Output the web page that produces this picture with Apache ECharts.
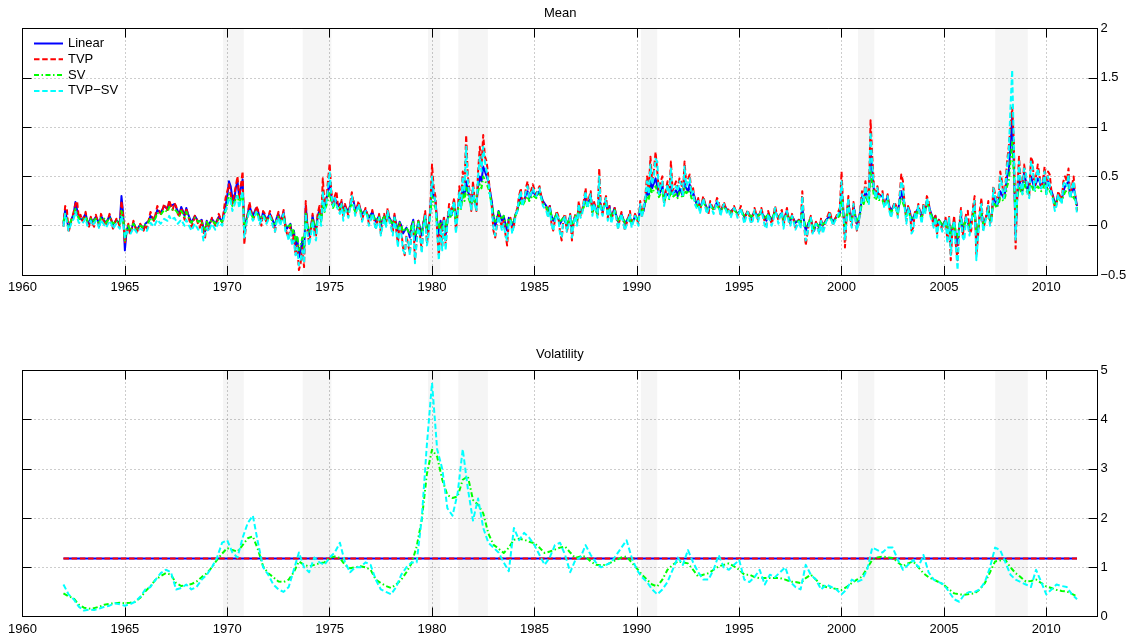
<!DOCTYPE html>
<html>
<head>
<meta charset="utf-8">
<script src="https://cdn.jsdelivr.net/npm/echarts@6/dist/echarts.min.js"></script>
<style>
  html, body { margin: 0; padding: 0; background: #fff; }
  #chart { width: 1130px; height: 640px; }
</style>
</head>
<body>
<div id="chart"></div>
<script>
// Conditional mean estimates, monthly from January 1962 to July 2011 (one row per year)
const meanStart = 1962;
const meanStep = 1 / 12;

const meanLinear = [
  0.02, 0.16, 0.14, -0.03, -0.02, 0.08, 0.12, 0.24, 0.22, 0.08, 0.10, 0.06,
  0.08, 0.12, 0.05, 0.02, 0.08, 0.04, 0.02, 0.09, 0.06, 0.01, 0.10, 0.07,
  0.08, 0.03, 0.04, 0.10, 0.06, 0.01, 0.00, 0.06, 0.05, 0.02, 0.30, 0.12,
  -0.25, -0.05, 0.00, -0.06, -0.03, 0.03, 0.02, -0.04, -0.05, 0.01, 0.00, -0.03,
  0.02, 0.00, 0.05, 0.10, 0.12, 0.06, 0.10, 0.16, 0.18, 0.13, 0.15, 0.20,
  0.20, 0.17, 0.24, 0.20, 0.18, 0.22, 0.21, 0.15, 0.12, 0.19, 0.15, 0.10,
  0.18, 0.12, 0.10, 0.03, 0.05, 0.10, 0.08, 0.04, 0.02, 0.06, -0.02, -0.06,
  0.05, 0.00, 0.02, 0.07, 0.08, 0.02, 0.04, 0.09, 0.10, 0.04, 0.12, 0.20,
  0.30, 0.45, 0.40, 0.28, 0.25, 0.38, 0.45, 0.30, 0.30, 0.47, -0.08, 0.05,
  0.12, 0.20, 0.20, 0.10, 0.12, 0.18, 0.15, 0.08, 0.05, 0.14, 0.12, 0.06,
  0.05, 0.12, 0.14, 0.04, 0.00, 0.08, 0.12, 0.05, 0.08, 0.14, 0.02, -0.03,
  -0.05, 0.02, -0.10, -0.05, -0.20, -0.12, -0.32, -0.25, -0.15, -0.28, 0.20, 0.00,
  -0.10, -0.02, 0.10, 0.00, -0.05, 0.10, 0.15, 0.05, 0.25, 0.18, 0.20, 0.35,
  0.45, 0.30, 0.20, 0.28, 0.30, 0.20, 0.18, 0.24, 0.15, 0.20, 0.20, 0.14,
  0.20, 0.28, 0.25, 0.16, 0.15, 0.22, 0.20, 0.12, 0.10, 0.16, 0.12, 0.08,
  0.08, 0.14, 0.12, 0.04, 0.05, 0.10, 0.00, 0.06, 0.10, 0.04, 0.15, 0.08,
  0.05, 0.00, 0.10, 0.02, -0.05, 0.04, 0.00, -0.08, -0.10, -0.02, -0.05, -0.12,
  0.00, 0.06, -0.15, -0.05, 0.05, -0.02, -0.10, 0.04, 0.10, -0.05, 0.00, 0.15,
  0.45, 0.30, 0.25, 0.05, -0.10, 0.05, -0.05, 0.08, -0.10, 0.05, 0.15, 0.10,
  0.15, 0.22, 0.05, 0.15, 0.30, 0.20, 0.40, 0.30, 0.45, 0.35, 0.30, 0.20,
  0.35, 0.25, 0.20, 0.40, 0.50, 0.45, 0.60, 0.55, 0.55, 0.45, 0.35, 0.25,
  0.10, 0.00, 0.05, 0.15, 0.15, 0.05, 0.10, 0.02, -0.05, 0.08, 0.10, 0.00,
  0.05, 0.12, 0.15, 0.25, 0.30, 0.22, 0.25, 0.32, 0.35, 0.28, 0.30, 0.35,
  0.35, 0.30, 0.32, 0.35, 0.30, 0.25, 0.25, 0.20, 0.15, 0.20, 0.10, 0.05,
  0.05, 0.12, 0.10, 0.02, 0.00, 0.08, 0.10, 0.00, 0.05, 0.10, -0.05, 0.05,
  0.10, 0.05, 0.20, 0.12, 0.15, 0.22, 0.30, 0.20, 0.25, 0.30, 0.15, 0.22,
  0.20, 0.12, 0.30, 0.18, 0.15, 0.22, 0.25, 0.12, 0.20, 0.08, 0.10, 0.18,
  0.10, 0.04, 0.05, 0.12, 0.10, 0.02, 0.00, 0.08, 0.08, 0.02, 0.05, 0.10,
  0.10, 0.05, 0.20, 0.12, 0.15, 0.25, 0.35, 0.30, 0.45, 0.38, 0.40, 0.48,
  0.40, 0.32, 0.35, 0.42, 0.25, 0.33, 0.35, 0.30, 0.40, 0.32, 0.30, 0.36,
  0.30, 0.38, 0.35, 0.30, 0.45, 0.38, 0.35, 0.42, 0.30, 0.34, 0.28, 0.22,
  0.25, 0.18, 0.20, 0.27, 0.25, 0.18, 0.15, 0.22, 0.22, 0.17, 0.20, 0.24,
  0.20, 0.15, 0.15, 0.21, 0.20, 0.16, 0.18, 0.14, 0.15, 0.18, 0.15, 0.12,
  0.12, 0.16, 0.15, 0.09, 0.10, 0.14, 0.12, 0.08, 0.10, 0.14, 0.15, 0.10,
  0.10, 0.14, 0.15, 0.08, 0.05, 0.12, 0.12, 0.06, 0.10, 0.15, 0.15, 0.08,
  0.10, 0.13, 0.05, 0.10, 0.15, 0.08, 0.05, 0.10, 0.08, 0.03, 0.02, 0.06,
  0.02, 0.18, 0.05, -0.05, 0.00, 0.04, 0.08, -0.02, -0.05, 0.03, 0.02, -0.02,
  0.05, 0.00, 0.00, 0.06, 0.05, 0.10, 0.10, 0.04, 0.05, 0.09, 0.08, 0.12,
  0.38, 0.15, -0.08, 0.10, 0.25, 0.10, 0.05, 0.20, 0.18, 0.02, 0.05, 0.15,
  0.30, 0.25, 0.35, 0.30, 0.25, 0.75, 0.55, 0.35, 0.30, 0.35, 0.30, 0.28,
  0.30, 0.22, 0.25, 0.30, 0.20, 0.15, 0.15, 0.22, 0.20, 0.14, 0.25, 0.35,
  0.35, 0.20, 0.10, 0.18, 0.15, 0.05, 0.05, 0.12, 0.10, 0.18, 0.15, 0.08,
  0.20, 0.15, 0.25, 0.22, 0.15, 0.10, 0.05, 0.10, 0.00, 0.06, 0.05, 0.00,
  0.00, 0.06, -0.05, 0.05, -0.15, -0.02, 0.05, -0.10, -0.20, 0.00, 0.10, -0.05,
  -0.05, 0.08, 0.10, -0.02, 0.00, 0.12, 0.20, -0.15, -0.05, 0.10, 0.15, 0.00,
  0.00, 0.10, 0.20, 0.05, 0.10, 0.30, 0.30, 0.20, 0.25, 0.35, 0.35, 0.28,
  0.35, 0.50, 0.55, 0.80, 1.10, 0.60, -0.10, 0.30, 0.50, 0.40, 0.35, 0.55,
  0.45, 0.35, 0.35, 0.50, 0.50, 0.38, 0.40, 0.48, 0.45, 0.38, 0.40, 0.50,
  0.35, 0.45, 0.45, 0.35, 0.30, 0.22, 0.25, 0.32, 0.30, 0.25, 0.35, 0.40,
  0.40, 0.45, 0.30, 0.35, 0.40, 0.30, 0.20
];

const meanTVP = [
  -0.01, 0.20, 0.17, -0.07, -0.05, 0.08, 0.14, 0.22, 0.25, 0.08, 0.11, 0.05,
  0.08, 0.14, 0.03, -0.01, 0.09, 0.02, -0.01, 0.11, 0.05, -0.02, 0.12, 0.07,
  0.09, 0.00, 0.02, 0.12, 0.06, -0.03, -0.04, 0.07, 0.04, -0.01, 0.25, 0.10,
  -0.18, -0.06, 0.02, -0.09, -0.04, 0.05, 0.03, -0.07, -0.08, 0.02, 0.01, -0.05,
  0.01, -0.03, 0.06, 0.14, 0.15, 0.05, 0.12, 0.20, 0.20, 0.12, 0.16, 0.22,
  0.22, 0.16, 0.26, 0.20, 0.16, 0.23, 0.20, 0.12, 0.09, 0.18, 0.13, 0.06,
  0.18, 0.10, 0.08, -0.01, 0.03, 0.10, 0.07, 0.01, -0.02, 0.05, -0.06, -0.12,
  0.04, -0.04, 0.00, 0.08, 0.10, 0.00, 0.03, 0.12, 0.12, 0.03, 0.16, 0.28,
  0.35, 0.42, 0.40, 0.22, 0.22, 0.40, 0.50, 0.28, 0.30, 0.55, -0.19, 0.02,
  0.12, 0.24, 0.22, 0.06, 0.10, 0.20, 0.16, 0.04, 0.00, 0.15, 0.12, 0.02,
  0.02, 0.15, 0.17, 0.00, -0.06, 0.08, 0.14, 0.03, 0.06, 0.16, -0.02, -0.08,
  -0.12, 0.00, -0.18, -0.10, -0.30, -0.20, -0.45, -0.38, -0.22, -0.42, 0.25, -0.05,
  -0.18, -0.06, 0.12, -0.04, -0.10, 0.12, 0.20, 0.05, 0.48, 0.22, 0.25, 0.45,
  0.63, 0.35, 0.20, 0.30, 0.35, 0.18, 0.15, 0.26, 0.10, 0.22, 0.22, 0.10,
  0.22, 0.34, 0.32, 0.12, 0.10, 0.25, 0.24, 0.06, 0.05, 0.18, 0.12, 0.02,
  0.05, 0.16, 0.15, -0.02, 0.00, 0.12, -0.08, 0.04, 0.12, 0.00, 0.18, 0.06,
  0.02, -0.08, 0.12, -0.04, -0.18, 0.02, -0.05, -0.22, -0.30, -0.10, -0.12, -0.28,
  -0.05, 0.05, -0.35, -0.15, 0.05, -0.10, -0.25, 0.03, 0.15, -0.18, -0.05, 0.20,
  0.62, 0.38, 0.30, -0.05, -0.30, 0.02, -0.20, 0.10, -0.20, 0.05, 0.22, 0.12,
  0.20, 0.28, -0.05, 0.12, 0.40, 0.22, 0.55, 0.38, 0.92, 0.50, 0.35, 0.15,
  0.45, 0.25, 0.15, 0.55, 0.80, 0.60, 0.92, 0.70, 0.65, 0.50, 0.35, 0.20,
  -0.05, -0.12, -0.12, 0.12, 0.10, -0.02, 0.05, -0.08, -0.20, 0.04, 0.08, -0.05,
  0.00, 0.12, 0.18, 0.30, 0.38, 0.22, 0.25, 0.38, 0.45, 0.30, 0.35, 0.42,
  0.42, 0.32, 0.36, 0.40, 0.30, 0.22, 0.22, 0.18, 0.10, 0.20, 0.02, -0.05,
  -0.05, 0.15, 0.10, -0.06, -0.15, 0.08, 0.12, -0.06, 0.02, 0.12, -0.15, 0.04,
  0.12, 0.02, 0.25, 0.10, 0.15, 0.26, 0.38, 0.20, 0.28, 0.35, 0.12, 0.24,
  0.22, 0.10, 0.58, 0.18, 0.12, 0.24, 0.30, 0.08, 0.20, 0.05, 0.05, 0.18,
  0.10, -0.02, 0.00, 0.14, 0.12, -0.04, -0.02, 0.08, 0.15, 0.00, 0.02, 0.12,
  0.12, 0.02, 0.25, 0.10, 0.10, 0.30, 0.50, 0.35, 0.70, 0.45, 0.55, 0.75,
  0.75, 0.35, 0.45, 0.50, 0.22, 0.35, 0.45, 0.30, 0.65, 0.35, 0.35, 0.45,
  0.38, 0.48, 0.45, 0.32, 0.65, 0.42, 0.40, 0.52, 0.35, 0.38, 0.25, 0.20,
  0.28, 0.15, 0.15, 0.30, 0.30, 0.15, 0.12, 0.25, 0.25, 0.15, 0.20, 0.28,
  0.25, 0.12, 0.12, 0.24, 0.22, 0.14, 0.18, 0.10, 0.12, 0.20, 0.18, 0.10,
  0.10, 0.20, 0.20, 0.05, 0.05, 0.16, 0.15, 0.04, 0.08, 0.18, 0.18, 0.06,
  0.05, 0.18, 0.20, 0.04, 0.00, 0.15, 0.15, 0.02, 0.08, 0.20, 0.18, 0.05,
  0.12, 0.16, 0.00, 0.10, 0.18, 0.06, 0.02, 0.12, 0.10, -0.02, -0.02, 0.06,
  0.00, 0.35, 0.05, -0.20, -0.08, 0.04, 0.10, -0.08, -0.10, 0.04, 0.02, -0.08,
  0.08, -0.05, -0.06, 0.06, 0.06, 0.15, 0.15, 0.02, 0.02, 0.10, 0.12, 0.18,
  0.55, 0.18, -0.22, 0.10, 0.30, 0.08, 0.00, 0.24, 0.22, -0.05, 0.02, 0.18,
  0.35, 0.28, 0.45, 0.32, 0.25, 1.07, 0.70, 0.40, 0.30, 0.40, 0.30, 0.28,
  0.35, 0.20, 0.25, 0.32, 0.18, 0.10, 0.10, 0.24, 0.20, 0.10, 0.30, 0.52,
  0.45, 0.20, 0.05, 0.20, 0.15, -0.05, -0.02, 0.14, 0.10, 0.22, 0.20, 0.05,
  0.22, 0.15, 0.30, 0.25, 0.12, 0.08, 0.00, 0.10, -0.08, 0.06, 0.02, -0.05,
  -0.05, 0.08, -0.15, 0.10, -0.35, -0.05, 0.10, -0.20, -0.35, 0.00, 0.18, -0.10,
  -0.12, 0.12, 0.15, -0.08, -0.05, 0.18, 0.30, -0.30, -0.10, 0.15, 0.28, -0.05,
  -0.05, 0.12, 0.25, 0.02, 0.08, 0.40, 0.40, 0.25, 0.30, 0.55, 0.45, 0.30,
  0.40, 0.65, 0.80, 1.00, 1.20, 0.85, -0.23, 0.35, 0.70, 0.45, 0.35, 0.62,
  0.60, 0.35, 0.30, 0.70, 0.65, 0.38, 0.40, 0.62, 0.62, 0.40, 0.45, 0.60,
  0.35, 0.55, 0.52, 0.35, 0.28, 0.18, 0.22, 0.35, 0.35, 0.25, 0.45, 0.50,
  0.45, 0.58, 0.30, 0.40, 0.50, 0.30, 0.15
];

const meanSV = [
  0.04, 0.12, 0.10, 0.00, 0.01, 0.07, 0.10, 0.17, 0.16, 0.07, 0.08, 0.06,
  0.07, 0.09, 0.05, 0.03, 0.07, 0.04, 0.03, 0.07, 0.05, 0.02, 0.08, 0.06,
  0.07, 0.03, 0.04, 0.08, 0.05, 0.02, 0.01, 0.05, 0.04, 0.02, 0.15, 0.08,
  -0.15, -0.04, 0.00, -0.05, -0.03, 0.02, 0.01, -0.03, -0.04, 0.00, 0.00, -0.02,
  0.01, 0.00, 0.04, 0.08, 0.10, 0.05, 0.08, 0.13, 0.14, 0.11, 0.12, 0.16,
  0.16, 0.14, 0.19, 0.16, 0.15, 0.17, 0.16, 0.13, 0.10, 0.15, 0.12, 0.09,
  0.14, 0.10, 0.08, 0.03, 0.04, 0.08, 0.07, 0.04, 0.02, 0.05, -0.01, -0.04,
  0.04, 0.01, 0.02, 0.06, 0.07, 0.02, 0.03, 0.07, 0.08, 0.04, 0.10, 0.15,
  0.22, 0.32, 0.28, 0.20, 0.18, 0.27, 0.32, 0.22, 0.22, 0.33, -0.03, 0.05,
  0.10, 0.16, 0.16, 0.08, 0.10, 0.14, 0.12, 0.07, 0.05, 0.11, 0.10, 0.05,
  0.04, 0.09, 0.10, 0.03, 0.00, 0.06, 0.09, 0.04, 0.06, 0.10, 0.02, -0.02,
  -0.04, 0.01, -0.08, -0.04, -0.15, -0.10, -0.25, -0.20, -0.12, -0.22, 0.12, 0.00,
  -0.06, -0.01, 0.07, 0.00, -0.03, 0.07, 0.12, 0.04, 0.20, 0.14, 0.16, 0.26,
  0.35, 0.24, 0.18, 0.22, 0.24, 0.17, 0.16, 0.20, 0.14, 0.17, 0.17, 0.13,
  0.18, 0.23, 0.21, 0.14, 0.14, 0.19, 0.18, 0.12, 0.10, 0.14, 0.12, 0.08,
  0.08, 0.12, 0.10, 0.05, 0.05, 0.09, 0.02, 0.06, 0.09, 0.04, 0.12, 0.07,
  0.05, 0.01, 0.08, 0.02, -0.03, 0.03, 0.00, -0.06, -0.08, -0.02, -0.04, -0.09,
  0.00, 0.04, -0.10, -0.04, 0.04, -0.01, -0.06, 0.03, 0.08, -0.03, 0.01, 0.12,
  0.30, 0.22, 0.18, 0.04, -0.02, 0.04, -0.03, 0.06, -0.03, 0.04, 0.12, 0.08,
  0.12, 0.18, 0.06, 0.12, 0.25, 0.17, 0.32, 0.25, 0.40, 0.30, 0.28, 0.20,
  0.30, 0.24, 0.22, 0.35, 0.42, 0.38, 0.50, 0.46, 0.45, 0.38, 0.30, 0.22,
  0.12, 0.04, 0.06, 0.14, 0.14, 0.06, 0.10, 0.04, 0.00, 0.08, 0.10, 0.03,
  0.06, 0.11, 0.14, 0.21, 0.25, 0.20, 0.22, 0.27, 0.30, 0.25, 0.28, 0.31,
  0.32, 0.28, 0.30, 0.32, 0.28, 0.23, 0.22, 0.19, 0.15, 0.18, 0.10, 0.06,
  0.06, 0.11, 0.10, 0.04, 0.02, 0.08, 0.10, 0.02, 0.05, 0.09, -0.02, 0.05,
  0.10, 0.06, 0.18, 0.12, 0.14, 0.19, 0.25, 0.18, 0.22, 0.26, 0.14, 0.19,
  0.18, 0.12, 0.26, 0.16, 0.14, 0.19, 0.22, 0.12, 0.18, 0.09, 0.10, 0.16,
  0.10, 0.05, 0.06, 0.11, 0.10, 0.03, 0.02, 0.08, 0.08, 0.03, 0.05, 0.09,
  0.10, 0.06, 0.18, 0.12, 0.14, 0.22, 0.30, 0.26, 0.38, 0.33, 0.35, 0.40,
  0.35, 0.29, 0.30, 0.36, 0.24, 0.30, 0.30, 0.27, 0.35, 0.29, 0.28, 0.32,
  0.28, 0.34, 0.32, 0.28, 0.38, 0.33, 0.32, 0.36, 0.28, 0.30, 0.26, 0.21,
  0.23, 0.18, 0.20, 0.24, 0.22, 0.18, 0.16, 0.20, 0.20, 0.17, 0.18, 0.21,
  0.18, 0.15, 0.15, 0.19, 0.18, 0.15, 0.16, 0.14, 0.14, 0.16, 0.14, 0.12,
  0.12, 0.15, 0.14, 0.10, 0.10, 0.13, 0.12, 0.09, 0.10, 0.13, 0.13, 0.10,
  0.10, 0.13, 0.13, 0.08, 0.06, 0.11, 0.11, 0.07, 0.09, 0.13, 0.13, 0.08,
  0.09, 0.11, 0.05, 0.09, 0.12, 0.07, 0.05, 0.08, 0.07, 0.03, 0.02, 0.05,
  0.02, 0.12, 0.05, -0.02, 0.00, 0.04, 0.07, 0.00, -0.03, 0.03, 0.02, -0.01,
  0.04, 0.01, 0.01, 0.05, 0.05, 0.08, 0.08, 0.04, 0.05, 0.07, 0.07, 0.10,
  0.28, 0.12, 0.00, 0.08, 0.20, 0.09, 0.06, 0.15, 0.14, 0.04, 0.06, 0.12,
  0.25, 0.22, 0.30, 0.26, 0.22, 0.55, 0.42, 0.30, 0.26, 0.30, 0.26, 0.25,
  0.26, 0.20, 0.22, 0.26, 0.18, 0.14, 0.14, 0.19, 0.18, 0.13, 0.22, 0.28,
  0.28, 0.18, 0.10, 0.15, 0.14, 0.06, 0.06, 0.11, 0.10, 0.15, 0.14, 0.08,
  0.18, 0.14, 0.22, 0.19, 0.14, 0.09, 0.06, 0.09, 0.02, 0.06, 0.05, 0.01,
  0.01, 0.05, -0.03, 0.04, -0.10, -0.01, 0.04, -0.07, -0.12, 0.01, 0.08, -0.03,
  -0.02, 0.06, 0.08, 0.00, 0.00, 0.09, 0.15, -0.08, -0.02, 0.08, 0.12, 0.02,
  0.02, 0.08, 0.16, 0.06, 0.10, 0.24, 0.24, 0.18, 0.22, 0.28, 0.28, 0.25,
  0.30, 0.40, 0.45, 0.65, 0.85, 0.50, 0.05, 0.28, 0.40, 0.35, 0.32, 0.45,
  0.38, 0.32, 0.32, 0.42, 0.42, 0.34, 0.36, 0.40, 0.40, 0.35, 0.36, 0.42,
  0.32, 0.38, 0.38, 0.32, 0.28, 0.22, 0.24, 0.28, 0.28, 0.24, 0.30, 0.34,
  0.34, 0.38, 0.28, 0.31, 0.32, 0.26, 0.18
];

const meanTVPSV = [
  -0.01, 0.12, 0.10, -0.05, -0.03, 0.04, 0.07, 0.14, 0.12, 0.03, 0.05, 0.02,
  0.04, 0.07, 0.00, -0.02, 0.05, 0.00, -0.02, 0.05, 0.02, -0.03, 0.06, 0.03,
  0.03, -0.02, -0.01, 0.05, 0.02, -0.03, -0.04, 0.02, 0.00, -0.03, 0.10, 0.03,
  -0.12, -0.06, -0.05, -0.09, -0.06, -0.02, -0.02, -0.07, -0.08, -0.03, -0.03, -0.05,
  -0.03, -0.05, 0.00, 0.03, 0.04, -0.01, 0.00, 0.06, 0.06, 0.02, 0.03, 0.07,
  0.08, 0.05, 0.10, 0.06, 0.04, 0.08, 0.06, 0.02, 0.02, 0.06, 0.04, 0.00,
  0.06, 0.02, 0.00, -0.05, -0.04, 0.02, 0.00, -0.04, -0.06, -0.02, -0.15, -0.08,
  -0.02, -0.06, -0.04, 0.02, 0.02, -0.04, -0.02, 0.04, 0.05, 0.00, 0.08, 0.15,
  0.20, 0.28, 0.25, 0.15, 0.15, 0.25, 0.30, 0.18, 0.18, 0.35, -0.12, 0.00,
  0.08, 0.16, 0.15, 0.05, 0.08, 0.14, 0.10, 0.02, 0.00, 0.10, 0.08, 0.02,
  0.00, 0.10, 0.12, -0.02, -0.06, 0.05, 0.08, 0.00, 0.02, 0.12, -0.05, -0.08,
  -0.15, -0.05, -0.20, -0.15, -0.30, -0.22, -0.40, -0.35, -0.25, -0.38, 0.12, -0.08,
  -0.20, -0.10, 0.05, -0.10, -0.15, 0.05, 0.10, 0.00, 0.35, 0.15, 0.22, 0.38,
  0.55, 0.32, 0.20, 0.28, 0.30, 0.15, 0.12, 0.22, 0.05, 0.18, 0.18, 0.08,
  0.18, 0.30, 0.28, 0.10, 0.08, 0.22, 0.20, 0.04, 0.02, 0.15, 0.10, 0.00,
  0.02, 0.12, 0.10, -0.04, -0.04, 0.08, -0.10, 0.00, 0.08, -0.02, 0.15, 0.04,
  -0.02, -0.10, 0.08, -0.05, -0.22, -0.02, -0.08, -0.25, -0.28, -0.12, -0.15, -0.30,
  -0.08, 0.02, -0.38, -0.18, 0.02, -0.12, -0.28, 0.00, 0.10, -0.20, -0.10, 0.15,
  0.50, 0.32, 0.25, -0.08, -0.35, -0.02, -0.25, 0.05, -0.25, 0.02, 0.18, 0.10,
  0.18, 0.25, -0.08, 0.10, 0.35, 0.18, 0.50, 0.35, 0.80, 0.45, 0.30, 0.15,
  0.40, 0.22, 0.15, 0.50, 0.70, 0.55, 0.80, 0.65, 0.55, 0.45, 0.30, 0.18,
  -0.02, -0.10, -0.10, 0.10, 0.08, -0.05, 0.02, -0.10, -0.15, 0.02, 0.05, -0.08,
  0.00, 0.10, 0.15, 0.28, 0.35, 0.20, 0.22, 0.35, 0.40, 0.28, 0.32, 0.38,
  0.40, 0.30, 0.35, 0.38, 0.28, 0.20, 0.20, 0.15, 0.08, 0.18, 0.02, -0.05,
  -0.05, 0.12, 0.08, -0.08, -0.12, 0.06, 0.10, -0.06, 0.00, 0.10, -0.12, 0.02,
  0.10, 0.00, 0.22, 0.08, 0.12, 0.24, 0.35, 0.18, 0.25, 0.32, 0.10, 0.22,
  0.20, 0.08, 0.50, 0.15, 0.10, 0.22, 0.28, 0.05, 0.18, 0.02, 0.02, 0.15,
  0.08, -0.04, -0.02, 0.12, 0.10, -0.05, -0.04, 0.06, 0.12, -0.02, 0.00, 0.10,
  0.10, 0.00, 0.22, 0.08, 0.08, 0.28, 0.45, 0.32, 0.62, 0.42, 0.50, 0.68,
  0.65, 0.32, 0.40, 0.45, 0.20, 0.32, 0.42, 0.28, 0.58, 0.32, 0.32, 0.40,
  0.35, 0.45, 0.42, 0.30, 0.60, 0.40, 0.38, 0.48, 0.32, 0.35, 0.22, 0.18,
  0.25, 0.12, 0.12, 0.28, 0.28, 0.12, 0.10, 0.22, 0.22, 0.12, 0.18, 0.25,
  0.22, 0.10, 0.10, 0.22, 0.20, 0.12, 0.15, 0.08, 0.10, 0.18, 0.15, 0.08,
  0.08, 0.18, 0.18, 0.02, 0.02, 0.14, 0.12, 0.02, 0.05, 0.16, 0.15, 0.04,
  0.02, 0.16, 0.18, 0.00, -0.03, 0.12, 0.12, 0.00, 0.05, 0.18, 0.16, 0.02,
  0.10, 0.14, -0.03, 0.08, 0.15, 0.04, 0.00, 0.10, 0.08, -0.04, -0.05, 0.04,
  -0.03, 0.30, 0.02, -0.15, -0.08, 0.02, 0.08, -0.08, -0.10, 0.02, 0.00, -0.08,
  0.05, -0.08, -0.08, 0.04, 0.04, 0.12, 0.12, 0.00, 0.00, 0.08, 0.10, 0.15,
  0.45, 0.15, -0.15, 0.08, 0.28, 0.06, -0.02, 0.22, 0.20, -0.05, 0.02, 0.15,
  0.32, 0.25, 0.40, 0.30, 0.22, 0.95, 0.62, 0.38, 0.28, 0.38, 0.28, 0.26,
  0.32, 0.18, 0.22, 0.30, 0.15, 0.08, 0.08, 0.22, 0.18, 0.08, 0.28, 0.45,
  0.40, 0.18, 0.02, 0.18, 0.12, -0.08, -0.05, 0.12, 0.08, 0.20, 0.18, 0.02,
  0.20, 0.12, 0.28, 0.22, 0.10, 0.05, -0.02, 0.08, -0.12, 0.04, 0.00, -0.06,
  -0.08, 0.06, -0.18, 0.08, -0.30, -0.08, 0.05, -0.22, -0.45, -0.02, 0.15, -0.12,
  -0.15, 0.10, 0.12, -0.10, -0.08, 0.15, 0.25, -0.35, -0.12, 0.12, 0.22, -0.06,
  -0.08, 0.10, 0.20, 0.00, 0.05, 0.38, 0.38, 0.22, 0.28, 0.50, 0.42, 0.28,
  0.38, 0.60, 0.75, 1.20, 1.58, 0.80, -0.15, 0.32, 0.65, 0.42, 0.32, 0.58,
  0.55, 0.32, 0.28, 0.65, 0.60, 0.36, 0.38, 0.58, 0.58, 0.38, 0.42, 0.55,
  0.32, 0.50, 0.48, 0.32, 0.25, 0.15, 0.20, 0.32, 0.32, 0.22, 0.42, 0.45,
  0.40, 0.52, 0.28, 0.38, 0.45, 0.28, 0.12
];

// Volatility estimates, quarterly from 1962Q1 to 2011Q3 (one row per year)
const volStart = 1962;
const volStep = 1 / 4;
const volLinear = 1.18;   // constant-volatility models
const volTVP = 1.18;

const volSV = [
  0.47, 0.41, 0.37, 0.24,
  0.18, 0.16, 0.17, 0.20,
  0.24, 0.26, 0.27, 0.28,
  0.27, 0.28, 0.30, 0.38,
  0.51, 0.62, 0.75, 0.82,
  0.88, 0.85, 0.68, 0.62,
  0.64, 0.66, 0.71, 0.80,
  0.88, 1.00, 1.15, 1.28,
  1.39, 1.35, 1.32, 1.45,
  1.59, 1.63, 1.36, 1.02,
  0.88, 0.80, 0.71, 0.70,
  0.75, 0.90, 1.12, 1.05,
  1.02, 1.05, 1.08, 1.10,
  1.19, 1.22, 1.19, 1.05,
  0.98, 1.00, 1.02, 1.00,
  0.95, 0.75, 0.68, 0.62,
  0.58, 0.65, 0.75, 0.90,
  1.08, 1.42, 1.97, 2.90,
  3.39, 3.25, 2.78, 2.47,
  2.41, 2.44, 2.78, 2.85,
  2.37, 2.27, 2.10, 1.69,
  1.46, 1.38, 1.29, 1.40,
  1.56, 1.58, 1.56, 1.52,
  1.49, 1.40, 1.29, 1.32,
  1.36, 1.40, 1.42, 1.30,
  1.19, 1.22, 1.22, 1.12,
  1.05, 1.04, 1.05, 1.10,
  1.15, 1.20, 1.22, 1.10,
  0.98, 0.85, 0.75, 0.65,
  0.61, 0.75, 0.95, 1.05,
  1.12, 1.10, 1.08, 0.95,
  0.81, 0.85, 0.88, 0.95,
  1.02, 1.05, 1.08, 1.02,
  0.95, 0.85, 0.85, 0.80,
  0.78, 0.78, 0.78, 0.78,
  0.78, 0.75, 0.71, 0.70,
  0.68, 0.78, 0.85, 0.75,
  0.64, 0.60, 0.58, 0.56,
  0.54, 0.60, 0.68, 0.75,
  0.81, 0.98, 1.15, 1.20,
  1.22, 1.20, 1.19, 1.10,
  1.02, 1.08, 1.12, 1.00,
  0.88, 0.80, 0.75, 0.70,
  0.64, 0.55, 0.47, 0.45,
  0.44, 0.46, 0.47, 0.55,
  0.68, 0.90, 1.12, 1.14,
  1.15, 1.00, 0.88, 0.80,
  0.71, 0.72, 0.75, 0.68,
  0.61, 0.58, 0.54, 0.52,
  0.51, 0.46, 0.41
];

const volTVPSV = [
  0.65, 0.45, 0.35, 0.20,
  0.12, 0.14, 0.13, 0.16,
  0.20, 0.22, 0.27, 0.25,
  0.22, 0.25, 0.30, 0.40,
  0.55, 0.60, 0.75, 0.88,
  0.95, 0.90, 0.55, 0.58,
  0.65, 0.55, 0.60, 0.75,
  0.85, 1.00, 1.20, 1.50,
  1.55, 1.30, 1.20, 1.60,
  1.90, 2.05, 1.50, 1.00,
  0.85, 0.65, 0.55, 0.50,
  0.60, 0.95, 1.30, 1.00,
  0.90, 1.20, 1.10, 1.05,
  1.20, 1.30, 1.50, 1.10,
  0.90, 1.00, 1.00, 1.10,
  1.05, 0.75, 0.55, 0.50,
  0.45, 0.60, 0.85, 1.00,
  1.10, 1.10, 2.00, 3.50,
  4.75, 3.40, 3.00, 2.20,
  2.05, 2.50, 3.40, 2.60,
  1.95, 2.40, 1.80, 1.50,
  1.40, 1.30, 1.10, 0.92,
  1.80, 1.55, 1.70, 1.60,
  1.45, 1.25, 1.05, 1.20,
  1.45, 1.50, 1.25, 0.90,
  1.15, 1.20, 1.45, 1.25,
  1.10, 1.00, 1.05, 1.10,
  1.25, 1.40, 1.55, 1.20,
  0.95, 0.80, 0.70, 0.55,
  0.45, 0.55, 0.70, 0.95,
  1.20, 1.05, 1.35, 1.10,
  0.90, 0.75, 0.75, 0.95,
  1.25, 1.00, 0.95, 1.05,
  1.15, 0.75, 0.70, 0.80,
  0.95, 0.65, 0.85, 0.80,
  0.90, 1.00, 0.70, 0.60,
  0.55, 1.05, 0.85, 0.75,
  0.55, 0.65, 0.60, 0.55,
  0.45, 0.55, 0.75, 0.70,
  0.75, 0.95, 1.40, 1.35,
  1.30, 1.40, 1.40, 1.15,
  0.95, 1.05, 1.15, 1.00,
  1.25, 0.90, 0.75, 0.70,
  0.65, 0.50, 0.35, 0.30,
  0.45, 0.50, 0.50, 0.55,
  0.70, 1.00, 1.40, 1.35,
  1.10, 0.85, 0.75, 0.70,
  0.65, 0.60, 0.95, 0.70,
  0.45, 0.55, 0.65, 0.62,
  0.60, 0.45, 0.35
];

// Recession periods, shaded in both panels
const recessions = [
  [1969.79, 1970.81],
  [1973.68, 1975.09],
  [1979.80, 1980.40],
  [1981.28, 1982.73],
  [1990.20, 1991.00],
  [2000.80, 2001.60],
  [2007.50, 2009.10]
];

// Axis ranges
const yearTicks = { min: 1960, max: 2012.5, step: 5 };
const meanTicks = { min: -0.5, max: 2, step: 0.5 };
const volTicks = { min: 0, max: 5, step: 1 };

const seriesNames = ['Linear', 'TVP', 'SV', 'TVP\u2212SV'];
const colors = ['#0000ff', '#ff0000', '#00ff00', '#00ffff'];
const dashes = ['solid', [5.5, 2.7], [5, 2.5, 1.5, 2.5], [5.5, 2.7]];

const FONT = '"Liberation Sans", Arial, Helvetica, sans-serif';

const withDates = (vals, start, step) => vals.map((v, i) => [start + i * step, v]);
const flatLine = (v, start, step, n) => Array.from({ length: n }, (_, i) => [start + i * step, v]);

const fmtNum = v => (v < 0 ? '\u2212' + String(-v) : String(v));

function xAxesFor(grid) {
  return [
    {
      type: 'value', gridIndex: grid, position: 'bottom',
      min: yearTicks.min, max: yearTicks.max, interval: yearTicks.step,
      axisLine: { show: true, onZero: false, lineStyle: { color: '#000', width: 1 } },
      axisTick: { show: true, inside: true, length: 9, lineStyle: { color: '#000' } },
      axisLabel: { show: true, color: '#000', fontSize: 13, fontFamily: FONT, margin: 6,
        showMaxLabel: false, formatter: v => String(v) },
      splitLine: { show: true, lineStyle: { color: '#9a9a9a', type: [1, 3], width: 1 } }
    },
    {
      type: 'value', gridIndex: grid, position: 'top',
      min: yearTicks.min, max: yearTicks.max, interval: yearTicks.step,
      axisLine: { show: true, onZero: false, lineStyle: { color: '#000', width: 1 } },
      axisTick: { show: true, inside: true, length: 9, lineStyle: { color: '#000' } },
      axisLabel: { show: false },
      splitLine: { show: false }
    }
  ];
}

function yAxesFor(grid, t) {
  return [
    {
      type: 'value', gridIndex: grid, position: 'right',
      min: t.min, max: t.max, interval: t.step,
      axisLine: { show: true, onZero: false, lineStyle: { color: '#000', width: 1 } },
      axisTick: { show: true, inside: true, length: 9, lineStyle: { color: '#000' } },
      axisLabel: { show: true, color: '#000', fontSize: 13, fontFamily: FONT, margin: 3,
        formatter: fmtNum },
      splitLine: { show: true, lineStyle: { color: '#9a9a9a', type: [1, 3], width: 1 } }
    },
    {
      type: 'value', gridIndex: grid, position: 'left',
      min: t.min, max: t.max, interval: t.step,
      axisLine: { show: true, onZero: false, lineStyle: { color: '#000', width: 1 } },
      axisTick: { show: true, inside: true, length: 9, lineStyle: { color: '#000' } },
      axisLabel: { show: false },
      splitLine: { show: false }
    }
  ];
}

function lineSeries(name, idx, data, xIdx, yIdx, extra) {
  return Object.assign({
    name: name,
    type: 'line',
    xAxisIndex: xIdx,
    yAxisIndex: yIdx,
    data: data,
    showSymbol: false,
    symbol: 'none',
    animation: false,
    silent: true,
    clip: true,
    lineStyle: { color: colors[idx], width: 2, type: dashes[idx], cap: 'butt', join: 'round' },
    itemStyle: { color: colors[idx] }
  }, extra || {});
}

const recessionArea = {
  silent: true,
  itemStyle: { color: 'rgba(0,0,0,0.04)' },
  data: recessions.map(([a, b]) => [{ xAxis: a }, { xAxis: b }])
};

const meanSets = [meanLinear, meanTVP, meanSV, meanTVPSV];
const nVol = volSV.length;
const volSets = [
  flatLine(volLinear, volStart, volStep, nVol),
  flatLine(volTVP, volStart, volStep, nVol),
  withDates(volSV, volStart, volStep),
  withDates(volTVPSV, volStart, volStep)
];

const series = [];
meanSets.forEach((vals, i) => {
  series.push(lineSeries(seriesNames[i], i, withDates(vals, meanStart, meanStep), 0, 0,
    i === 0 ? { markArea: recessionArea } : null));
});
volSets.forEach((data, i) => {
  series.push(lineSeries(seriesNames[i], i, data, 2, 2,
    i === 0 ? { markArea: recessionArea } : null));
});

const chart = echarts.init(document.getElementById('chart'), null, { renderer: 'canvas' });
chart.setOption({
  animation: false,
  backgroundColor: '#ffffff',
  textStyle: { fontFamily: FONT },
  title: [
    { text: 'Mean', left: 544, top: 7, padding: 0,
      textStyle: { fontSize: 13, fontWeight: 'normal', color: '#000', fontFamily: FONT } },
    { text: 'Volatility', left: 536, top: 348, padding: 0,
      textStyle: { fontSize: 13, fontWeight: 'normal', color: '#000', fontFamily: FONT } }
  ],
  legend: {
    data: seriesNames,
    orient: 'vertical',
    left: 33,
    top: 37,
    padding: 0,
    itemWidth: 29,
    itemHeight: 14,
    itemGap: 2.8,
    selectedMode: false,
    itemStyle: { opacity: 0, color: 'transparent', borderWidth: 0 },
    textStyle: { fontSize: 13, color: '#000', fontFamily: FONT }
  },
  grid: [
    { left: 22.5, right: 32.5, top: 28.5, height: 246.5, containLabel: false },
    { left: 22.5, right: 32.5, top: 370.5, height: 246, containLabel: false }
  ],
  xAxis: xAxesFor(0).concat(xAxesFor(1)),
  yAxis: yAxesFor(0, meanTicks).concat(yAxesFor(1, volTicks)),
  series: series
});
</script>
</body>
</html>
